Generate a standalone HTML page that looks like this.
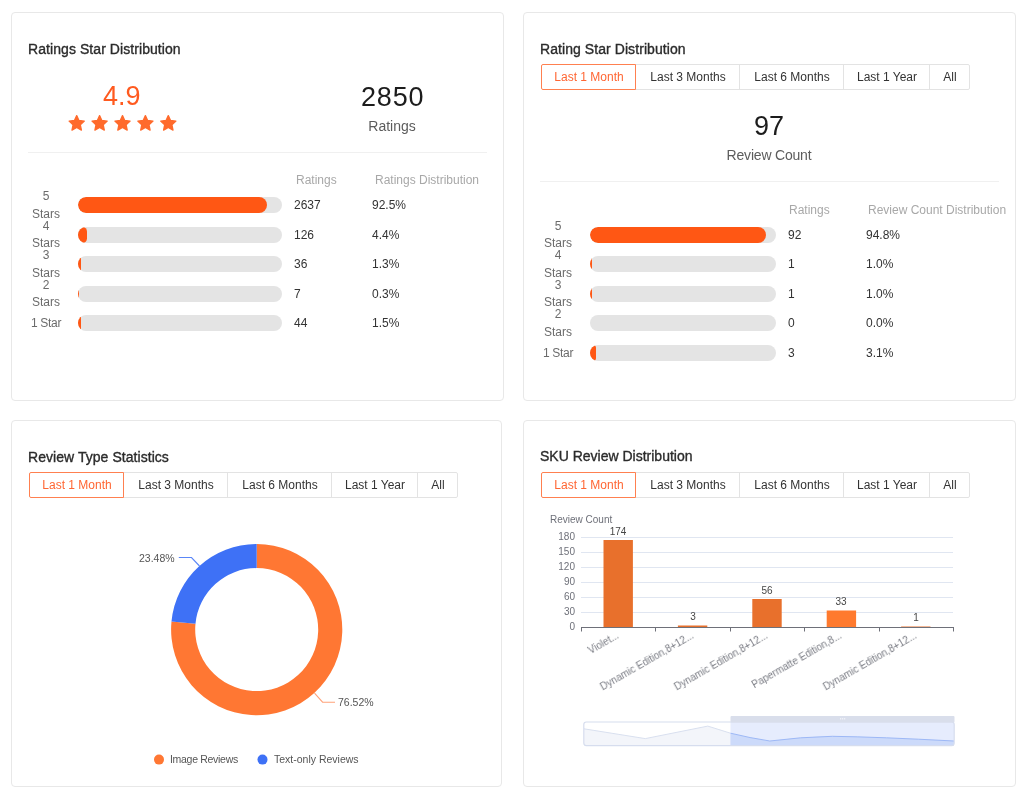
<!DOCTYPE html>
<html><head><meta charset="utf-8"><title>Review Dashboard</title>
<style>
html,body{margin:0;padding:0;background:#fff;}
body{position:relative;width:1024px;height:797px;overflow:hidden;font-family:"Liberation Sans",sans-serif;}
.p{position:absolute;box-sizing:border-box;border:1px solid #e8e8e8;border-radius:4px;}
.t{position:absolute;white-space:nowrap;line-height:1;will-change:transform;}
.ttl{-webkit-text-stroke:0.35px #2b2b2b;}
.trk{position:absolute;height:16px;border-radius:8px;background:#e4e4e4;overflow:hidden;}
.fil{height:16px;border-radius:100px;background:#FF5714;}
.div{position:absolute;height:1px;background:#f0f0f0;}
.tabs{position:absolute;height:26px;box-sizing:border-box;}
.tab{position:absolute;top:0;height:26px;box-sizing:border-box;border:1px solid #e3e3e3;border-left:none;}
</style></head><body>

<div class="p" style="left:11px;top:12px;width:493px;height:389px"></div>
<div class="p" style="left:523px;top:12px;width:493px;height:389px"></div>
<div class="p" style="left:11px;top:420px;width:491px;height:367px"></div>
<div class="p" style="left:523px;top:420px;width:493px;height:367px"></div>
<div class="t ttl" style="top:41.62px;font-size:14px;color:#2b2b2b;letter-spacing:0.07px;left:27.90px;">Ratings Star Distribution</div>
<div class="t ttl" style="top:41.62px;font-size:14px;color:#2b2b2b;letter-spacing:0.07px;left:540.10px;">Rating Star Distribution</div>
<div class="t ttl" style="top:449.62px;font-size:14px;color:#2b2b2b;letter-spacing:0.05px;left:27.90px;">Review Type Statistics</div>
<div class="t ttl" style="top:449.42px;font-size:14px;color:#2b2b2b;left:539.60px;">SKU Review Distribution</div>
<div style="position:absolute;left:541px;top:64px;width:95px;height:26px;box-sizing:border-box;border:1px solid #FF8050;border-radius:2px 0 0 2px;z-index:2"></div>
<div class="t" style="top:70.96px;font-size:12px;color:#FF6633;left:288.50px;width:600px;text-align:center;">Last 1 Month</div>
<div style="position:absolute;left:635px;top:64px;width:105px;height:26px;box-sizing:border-box;border:1px solid #e3e3e3;"></div>
<div class="t" style="top:70.96px;font-size:12px;color:#333;left:388.00px;width:600px;text-align:center;">Last 3 Months</div>
<div style="position:absolute;left:739px;top:64px;width:105px;height:26px;box-sizing:border-box;border:1px solid #e3e3e3;"></div>
<div class="t" style="top:70.96px;font-size:12px;color:#333;left:492.00px;width:600px;text-align:center;">Last 6 Months</div>
<div style="position:absolute;left:843px;top:64px;width:87px;height:26px;box-sizing:border-box;border:1px solid #e3e3e3;"></div>
<div class="t" style="top:70.96px;font-size:12px;color:#333;left:587.00px;width:600px;text-align:center;">Last 1 Year</div>
<div style="position:absolute;left:929px;top:64px;width:41px;height:26px;box-sizing:border-box;border:1px solid #e3e3e3;border-radius:0 2px 2px 0;"></div>
<div class="t" style="top:70.96px;font-size:12px;color:#333;left:650.00px;width:600px;text-align:center;">All</div>
<div style="position:absolute;left:29px;top:472px;width:95px;height:26px;box-sizing:border-box;border:1px solid #FF8050;border-radius:2px 0 0 2px;z-index:2"></div>
<div class="t" style="top:478.96px;font-size:12px;color:#FF6633;left:-223.50px;width:600px;text-align:center;">Last 1 Month</div>
<div style="position:absolute;left:123px;top:472px;width:105px;height:26px;box-sizing:border-box;border:1px solid #e3e3e3;"></div>
<div class="t" style="top:478.96px;font-size:12px;color:#333;left:-124.00px;width:600px;text-align:center;">Last 3 Months</div>
<div style="position:absolute;left:227px;top:472px;width:105px;height:26px;box-sizing:border-box;border:1px solid #e3e3e3;"></div>
<div class="t" style="top:478.96px;font-size:12px;color:#333;left:-20.00px;width:600px;text-align:center;">Last 6 Months</div>
<div style="position:absolute;left:331px;top:472px;width:87px;height:26px;box-sizing:border-box;border:1px solid #e3e3e3;"></div>
<div class="t" style="top:478.96px;font-size:12px;color:#333;left:75.00px;width:600px;text-align:center;">Last 1 Year</div>
<div style="position:absolute;left:417px;top:472px;width:41px;height:26px;box-sizing:border-box;border:1px solid #e3e3e3;border-radius:0 2px 2px 0;"></div>
<div class="t" style="top:478.96px;font-size:12px;color:#333;left:138.00px;width:600px;text-align:center;">All</div>
<div style="position:absolute;left:541px;top:472px;width:95px;height:26px;box-sizing:border-box;border:1px solid #FF8050;border-radius:2px 0 0 2px;z-index:2"></div>
<div class="t" style="top:478.96px;font-size:12px;color:#FF6633;left:288.50px;width:600px;text-align:center;">Last 1 Month</div>
<div style="position:absolute;left:635px;top:472px;width:105px;height:26px;box-sizing:border-box;border:1px solid #e3e3e3;"></div>
<div class="t" style="top:478.96px;font-size:12px;color:#333;left:388.00px;width:600px;text-align:center;">Last 3 Months</div>
<div style="position:absolute;left:739px;top:472px;width:105px;height:26px;box-sizing:border-box;border:1px solid #e3e3e3;"></div>
<div class="t" style="top:478.96px;font-size:12px;color:#333;left:492.00px;width:600px;text-align:center;">Last 6 Months</div>
<div style="position:absolute;left:843px;top:472px;width:87px;height:26px;box-sizing:border-box;border:1px solid #e3e3e3;"></div>
<div class="t" style="top:478.96px;font-size:12px;color:#333;left:587.00px;width:600px;text-align:center;">Last 1 Year</div>
<div style="position:absolute;left:929px;top:472px;width:41px;height:26px;box-sizing:border-box;border:1px solid #e3e3e3;border-radius:0 2px 2px 0;"></div>
<div class="t" style="top:478.96px;font-size:12px;color:#333;left:650.00px;width:600px;text-align:center;">All</div>
<div class="t" style="top:82.96px;font-size:27px;color:#FF5A1F;left:102.50px;">4.9</div>
<svg style="position:absolute;left:0;top:0" width="1024" height="797"><polygon points="76.70,115.60 78.96,120.49 84.31,121.13 80.35,124.79 81.40,130.07 76.70,127.44 72.00,130.07 73.05,124.79 69.09,121.13 74.44,120.49" fill="#FF6A2C" stroke="#FF6A2C" stroke-width="1.3" stroke-linejoin="round"/><polygon points="99.60,115.60 101.86,120.49 107.21,121.13 103.25,124.79 104.30,130.07 99.60,127.44 94.90,130.07 95.95,124.79 91.99,121.13 97.34,120.49" fill="#FF6A2C" stroke="#FF6A2C" stroke-width="1.3" stroke-linejoin="round"/><polygon points="122.50,115.60 124.76,120.49 130.11,121.13 126.15,124.79 127.20,130.07 122.50,127.44 117.80,130.07 118.85,124.79 114.89,121.13 120.24,120.49" fill="#FF6A2C" stroke="#FF6A2C" stroke-width="1.3" stroke-linejoin="round"/><polygon points="145.40,115.60 147.66,120.49 153.01,121.13 149.05,124.79 150.10,130.07 145.40,127.44 140.70,130.07 141.75,124.79 137.79,121.13 143.14,120.49" fill="#FF6A2C" stroke="#FF6A2C" stroke-width="1.3" stroke-linejoin="round"/><polygon points="168.30,115.60 170.56,120.49 175.91,121.13 171.95,124.79 173.00,130.07 168.30,127.44 163.60,130.07 164.65,124.79 160.69,121.13 166.04,120.49" fill="#FF6A2C" stroke="#FF6A2C" stroke-width="1.3" stroke-linejoin="round"/></svg>
<div class="t" style="top:83.66px;font-size:27px;color:#1c1c1c;letter-spacing:0.8px;left:360.90px;">2850</div>
<div class="t" style="top:118.62px;font-size:14px;color:#5c5c5c;left:91.80px;width:600px;text-align:center;">Ratings</div>
<div class="div" style="left:28px;top:152px;width:459px"></div>
<div class="t" style="top:174.06px;font-size:12px;color:#a8a8a8;left:295.60px;">Ratings</div>
<div class="t" style="top:174.06px;font-size:12px;color:#a8a8a8;left:374.80px;">Ratings Distribution</div>
<div class="trk" style="left:78px;top:197.2px;width:204px"><div class="fil" style="width:92.5%"></div></div>
<div class="t" style="top:199.06px;font-size:12px;color:#333;left:293.80px;">2637</div>
<div class="t" style="top:199.36px;font-size:12px;color:#333;left:372.10px;">92.5%</div>
<div class="t" style="top:190.26px;font-size:12px;color:#6b6b6b;left:-253.70px;width:600px;text-align:center;">5</div>
<div class="t" style="top:207.86px;font-size:12px;color:#6b6b6b;left:-253.70px;width:600px;text-align:center;">Stars</div>
<div class="trk" style="left:78px;top:226.7px;width:204px"><div class="fil" style="width:4.4%"></div></div>
<div class="t" style="top:228.56px;font-size:12px;color:#333;left:293.80px;">126</div>
<div class="t" style="top:228.86px;font-size:12px;color:#333;left:372.10px;">4.4%</div>
<div class="t" style="top:219.76px;font-size:12px;color:#6b6b6b;left:-253.70px;width:600px;text-align:center;">4</div>
<div class="t" style="top:237.36px;font-size:12px;color:#6b6b6b;left:-253.70px;width:600px;text-align:center;">Stars</div>
<div class="trk" style="left:78px;top:256.2px;width:204px"><div class="fil" style="width:1.3%"></div></div>
<div class="t" style="top:258.06px;font-size:12px;color:#333;left:293.80px;">36</div>
<div class="t" style="top:258.36px;font-size:12px;color:#333;left:372.10px;">1.3%</div>
<div class="t" style="top:249.26px;font-size:12px;color:#6b6b6b;left:-253.70px;width:600px;text-align:center;">3</div>
<div class="t" style="top:266.86px;font-size:12px;color:#6b6b6b;left:-253.70px;width:600px;text-align:center;">Stars</div>
<div class="trk" style="left:78px;top:285.7px;width:204px"><div class="fil" style="width:0.3%"></div></div>
<div class="t" style="top:287.56px;font-size:12px;color:#333;left:293.80px;">7</div>
<div class="t" style="top:287.86px;font-size:12px;color:#333;left:372.10px;">0.3%</div>
<div class="t" style="top:278.76px;font-size:12px;color:#6b6b6b;left:-253.70px;width:600px;text-align:center;">2</div>
<div class="t" style="top:296.36px;font-size:12px;color:#6b6b6b;left:-253.70px;width:600px;text-align:center;">Stars</div>
<div class="trk" style="left:78px;top:315.2px;width:204px"><div class="fil" style="width:1.5%"></div></div>
<div class="t" style="top:317.06px;font-size:12px;color:#333;left:293.80px;">44</div>
<div class="t" style="top:317.36px;font-size:12px;color:#333;left:372.10px;">1.5%</div>
<div class="t" style="top:317.26px;font-size:12px;color:#6b6b6b;letter-spacing:-0.3px;left:-253.70px;width:600px;text-align:center;">1 Star</div>
<div class="t" style="top:113.16px;font-size:27px;color:#1c1c1c;left:469.30px;width:600px;text-align:center;">97</div>
<div class="t" style="top:148.42px;font-size:14px;color:#5c5c5c;letter-spacing:-0.2px;left:469.20px;width:600px;text-align:center;">Review Count</div>
<div class="div" style="left:540px;top:181px;width:459px"></div>
<div class="t" style="top:204.16px;font-size:12px;color:#a8a8a8;left:789.10px;">Ratings</div>
<div class="t" style="top:204.16px;font-size:12px;color:#a8a8a8;left:868.20px;">Review Count Distribution</div>
<div class="trk" style="left:590px;top:226.7px;width:186px"><div class="fil" style="width:94.8%"></div></div>
<div class="t" style="top:228.56px;font-size:12px;color:#333;left:787.90px;">92</div>
<div class="t" style="top:228.86px;font-size:12px;color:#333;left:866.30px;">94.8%</div>
<div class="t" style="top:219.76px;font-size:12px;color:#6b6b6b;left:258.30px;width:600px;text-align:center;">5</div>
<div class="t" style="top:237.36px;font-size:12px;color:#6b6b6b;left:258.30px;width:600px;text-align:center;">Stars</div>
<div class="trk" style="left:590px;top:256.2px;width:186px"><div class="fil" style="width:1.0%"></div></div>
<div class="t" style="top:258.06px;font-size:12px;color:#333;left:787.90px;">1</div>
<div class="t" style="top:258.36px;font-size:12px;color:#333;left:866.30px;">1.0%</div>
<div class="t" style="top:249.26px;font-size:12px;color:#6b6b6b;left:258.30px;width:600px;text-align:center;">4</div>
<div class="t" style="top:266.86px;font-size:12px;color:#6b6b6b;left:258.30px;width:600px;text-align:center;">Stars</div>
<div class="trk" style="left:590px;top:285.7px;width:186px"><div class="fil" style="width:1.0%"></div></div>
<div class="t" style="top:287.56px;font-size:12px;color:#333;left:787.90px;">1</div>
<div class="t" style="top:287.86px;font-size:12px;color:#333;left:866.30px;">1.0%</div>
<div class="t" style="top:278.76px;font-size:12px;color:#6b6b6b;left:258.30px;width:600px;text-align:center;">3</div>
<div class="t" style="top:296.36px;font-size:12px;color:#6b6b6b;left:258.30px;width:600px;text-align:center;">Stars</div>
<div class="trk" style="left:590px;top:315.2px;width:186px"><div class="fil" style="width:0.0%"></div></div>
<div class="t" style="top:317.06px;font-size:12px;color:#333;left:787.90px;">0</div>
<div class="t" style="top:317.36px;font-size:12px;color:#333;left:866.30px;">0.0%</div>
<div class="t" style="top:308.26px;font-size:12px;color:#6b6b6b;left:258.30px;width:600px;text-align:center;">2</div>
<div class="t" style="top:325.86px;font-size:12px;color:#6b6b6b;left:258.30px;width:600px;text-align:center;">Stars</div>
<div class="trk" style="left:590px;top:344.7px;width:186px"><div class="fil" style="width:3.1%"></div></div>
<div class="t" style="top:346.56px;font-size:12px;color:#333;left:787.90px;">3</div>
<div class="t" style="top:346.86px;font-size:12px;color:#333;left:866.30px;">3.1%</div>
<div class="t" style="top:346.76px;font-size:12px;color:#6b6b6b;letter-spacing:-0.3px;left:258.30px;width:600px;text-align:center;">1 Star</div>
<svg style="position:absolute;left:0;top:0" width="1024" height="797"><path d="M256.70,544.00 A85.6,85.6 0 1 1 171.49,621.44 L195.48,623.74 A61.5,61.5 0 1 0 256.70,568.10 Z" fill="#FF7733"/><path d="M171.49,621.44 A85.6,85.6 0 0 1 256.70,544.00 L256.70,568.10 A61.5,61.5 0 0 0 195.48,623.74 Z" fill="#3E71F6"/><polyline points="199.5,566 191.5,557.5 178.8,557.5" fill="none" stroke="#5A86F7" stroke-width="1.1"/><polyline points="314.5,693.2 322.6,702.2 335,702.2" fill="none" stroke="#FFA27A" stroke-width="1.1"/><circle cx="159" cy="759.6" r="5" fill="#FF7733"/><circle cx="262.5" cy="759.6" r="5" fill="#3E71F6"/></svg>
<div class="t" style="top:552.84px;font-size:10.5px;color:#555;left:138.80px;">23.48%</div>
<div class="t" style="top:697.44px;font-size:10.5px;color:#555;left:338.30px;">76.52%</div>
<div class="t" style="top:754.04px;font-size:10.5px;color:#555;letter-spacing:-0.3px;left:170.00px;">Image Reviews</div>
<div class="t" style="top:754.04px;font-size:10.5px;color:#555;left:273.90px;">Text-only Reviews</div>
<svg style="position:absolute;left:0;top:0" width="1024" height="797"><line x1="581" y1="612.5" x2="953" y2="612.5" stroke="#E0E6F1" stroke-width="1"/><line x1="581" y1="597.5" x2="953" y2="597.5" stroke="#E0E6F1" stroke-width="1"/><line x1="581" y1="582.5" x2="953" y2="582.5" stroke="#E0E6F1" stroke-width="1"/><line x1="581" y1="567.5" x2="953" y2="567.5" stroke="#E0E6F1" stroke-width="1"/><line x1="581" y1="552.5" x2="953" y2="552.5" stroke="#E0E6F1" stroke-width="1"/><line x1="581" y1="537.5" x2="953" y2="537.5" stroke="#E0E6F1" stroke-width="1"/><line x1="581" y1="627.5" x2="953" y2="627.5" stroke="#6E7079" stroke-width="1"/><line x1="581.5" y1="627" x2="581.5" y2="631.5" stroke="#6E7079" stroke-width="1"/><line x1="655.5" y1="627" x2="655.5" y2="631.5" stroke="#6E7079" stroke-width="1"/><line x1="730.5" y1="627" x2="730.5" y2="631.5" stroke="#6E7079" stroke-width="1"/><line x1="804.5" y1="627" x2="804.5" y2="631.5" stroke="#6E7079" stroke-width="1"/><line x1="879.5" y1="627" x2="879.5" y2="631.5" stroke="#6E7079" stroke-width="1"/><line x1="953.5" y1="627" x2="953.5" y2="631.5" stroke="#6E7079" stroke-width="1"/><rect x="603.50" y="540.00" width="29.4" height="87.00" fill="#E8702C"/><rect x="677.90" y="625.50" width="29.4" height="1.50" fill="#E8702C"/><rect x="752.30" y="599.00" width="29.4" height="28.00" fill="#E8702C"/><rect x="826.70" y="610.50" width="29.4" height="16.50" fill="#FF7A2E"/><rect x="901.10" y="626.50" width="29.4" height="0.50" fill="#E8702C"/><path d="M584,728.8 L645.3,738.6 L707.8,726.1 L730.5,733.2 L730.5,745.5 L584,745.5 Z" fill="#F3F5FA"/><polyline points="584,728.8 645.3,738.6 707.8,726.1 730.5,733.2" fill="none" stroke="#D9E0EF" stroke-width="1"/><rect x="730.5" y="722" width="223.5" height="23.5" fill="#E6ECFD"/><path d="M730.5,733.2 Q750,738 769.8,741 Q800,737 832.3,736.3 Q880,737 954,741 L954,745.5 L730.5,745.5 Z" fill="#CCDAFA"/><path d="M730.5,733.2 Q750,738 769.8,741 Q800,737 832.3,736.3 Q880,737 954,741" fill="none" stroke="#9DB8F6" stroke-width="1"/><rect x="583.8" y="722" width="370.4" height="23.6" rx="2.5" fill="none" stroke="#D6DDEE" stroke-width="1.2"/><rect x="730.5" y="716" width="224" height="6.5" rx="1" fill="#D9DEEB"/><rect x="840" y="718.2" width="1.2" height="1.2" fill="#f4f6fb"/><rect x="842" y="718.2" width="1.2" height="1.2" fill="#f4f6fb"/><rect x="844" y="718.2" width="1.2" height="1.2" fill="#f4f6fb"/></svg>
<div class="t" style="top:515.10px;font-size:10px;color:#6E7079;left:549.50px;">Review Count</div>
<div class="t" style="top:622.10px;font-size:10px;color:#6E7079;left:-24.90px;width:600px;text-align:right;">0</div>
<div class="t" style="top:607.10px;font-size:10px;color:#6E7079;left:-24.90px;width:600px;text-align:right;">30</div>
<div class="t" style="top:592.10px;font-size:10px;color:#6E7079;left:-24.90px;width:600px;text-align:right;">60</div>
<div class="t" style="top:577.10px;font-size:10px;color:#6E7079;left:-24.90px;width:600px;text-align:right;">90</div>
<div class="t" style="top:562.10px;font-size:10px;color:#6E7079;left:-24.90px;width:600px;text-align:right;">120</div>
<div class="t" style="top:547.10px;font-size:10px;color:#6E7079;left:-24.90px;width:600px;text-align:right;">150</div>
<div class="t" style="top:532.10px;font-size:10px;color:#6E7079;left:-24.90px;width:600px;text-align:right;">180</div>
<div class="t" style="top:526.50px;font-size:10px;color:#464646;left:318.20px;width:600px;text-align:center;">174</div>
<div class="t" style="top:612.00px;font-size:10px;color:#464646;left:392.60px;width:600px;text-align:center;">3</div>
<div class="t" style="top:585.50px;font-size:10px;color:#464646;left:467.00px;width:600px;text-align:center;">56</div>
<div class="t" style="top:597.00px;font-size:10px;color:#464646;left:541.40px;width:600px;text-align:center;">33</div>
<div class="t" style="top:613.00px;font-size:10px;color:#464646;left:615.80px;width:600px;text-align:center;">1</div>
<div class="t" style="left:218.20px;top:630px;width:400px;text-align:right;font-size:10px;color:#7a7c84;transform-origin:100% 50%;transform:rotate(-30deg)">Violet...</div>
<div class="t" style="left:292.60px;top:630px;width:400px;text-align:right;font-size:10px;color:#7a7c84;transform-origin:100% 50%;transform:rotate(-30deg)">Dynamic Edition,8+12...</div>
<div class="t" style="left:367.00px;top:630px;width:400px;text-align:right;font-size:10px;color:#7a7c84;transform-origin:100% 50%;transform:rotate(-30deg)">Dynamic Edition,8+12...</div>
<div class="t" style="left:441.40px;top:630px;width:400px;text-align:right;font-size:10px;color:#7a7c84;transform-origin:100% 50%;transform:rotate(-30deg)">Papermatte Edition,8...</div>
<div class="t" style="left:515.80px;top:630px;width:400px;text-align:right;font-size:10px;color:#7a7c84;transform-origin:100% 50%;transform:rotate(-30deg)">Dynamic Edition,8+12...</div>
</body></html>
